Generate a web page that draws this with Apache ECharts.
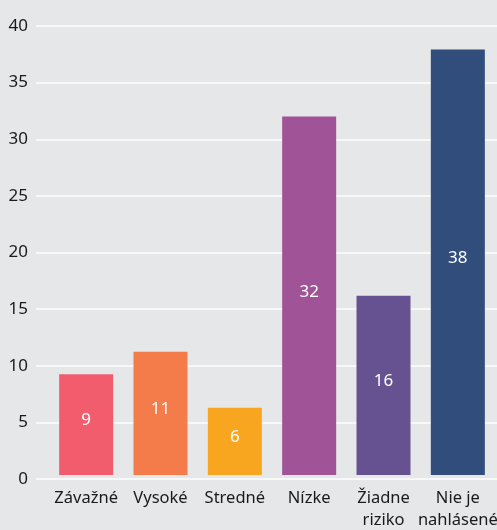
<!DOCTYPE html>
<html>
<head>
    <meta charset="utf-8">
    <title>ECharts</title>
    <script type="text/javascript" src="https://cdn.jsdelivr.net/npm/echarts@6/dist/echarts.min.js"></script>
    <style>
        html, body { margin: 0; padding: 0; background: #e6e7e9; }
    </style>
</head>
<body>
    <div id="main" style="width: 497px;height:530px;"></div>
    <script type="text/javascript">
        var categories = ['Závažné', 'Vysoké', 'Stredné', 'Nízke', 'Žiadne\nriziko', 'Nie je\nnahlásené'];
        var values = [9, 11, 6, 32, 16, 38];
        var barColors = ['#f15d6d', '#f47c4a', '#f8a51f', '#a05396', '#665291', '#314d7b'];
        var yTicks = [0, 5, 10, 15, 20, 25, 30, 35, 40];

        var font = 'Noto Sans';
        var option = {
            backgroundColor: '#e6e7e9',
            animation: false,
            grid: [
                // gridlines + y labels
                { left: 36, right: 0, top: 26, bottom: 51, outerBoundsMode: 'none', containLabel: false },
                // bars
                { left: 49, right: 2, top: 27, bottom: 55, outerBoundsMode: 'none', containLabel: false }
            ],
            xAxis: [
                { gridIndex: 0, type: 'value', show: false, min: 0, max: 1 },
                {
                    gridIndex: 1,
                    type: 'category',
                    data: categories,
                    axisLine: { show: false },
                    axisTick: { show: false },
                    axisLabel: {
                        margin: 12,
                        color: '#1a1a1a',
                        fontFamily: font,
                        fontSize: 16.5,
                        lineHeight: 22,
                        interval: 0,
                        hideOverlap: false
                    }
                }
            ],
            yAxis: [
                {
                    gridIndex: 0,
                    type: 'value',
                    min: yTicks[0],
                    max: yTicks[yTicks.length - 1],
                    interval: 5,
                    axisLine: { show: false },
                    axisTick: { show: false },
                    axisLabel: {
                        margin: 8,
                        color: '#1a1a1a',
                        fontFamily: font,
                        fontSize: 17
                    },
                    splitLine: { lineStyle: { color: '#f8f8f8', width: 2 } }
                },
                {
                    gridIndex: 1,
                    type: 'value',
                    min: 0,
                    max: 40,
                    show: false
                }
            ],
            series: [{
                type: 'bar',
                xAxisIndex: 1,
                yAxisIndex: 1,
                barWidth: 54,
                data: values.map(function (v, i) {
                    return { value: v, itemStyle: { color: barColors[i] } };
                }),
                label: {
                    show: true,
                    position: 'inside',
                    offset: [0, -4],
                    color: '#ffffff',
                    fontFamily: font,
                    fontSize: 17
                }
            }]
        };
        echarts.init(document.getElementById('main')).setOption(option);
    </script>
</body>
</html>
